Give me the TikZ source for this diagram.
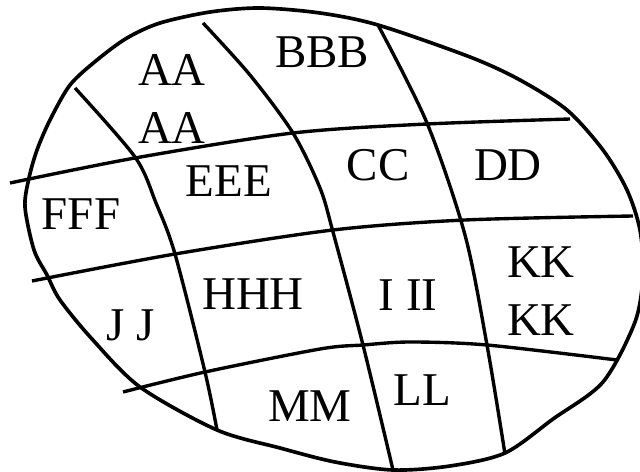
\documentclass[tikz,border=0pt]{standalone}
\usepackage{fontspec}
\setmainfont{Liberation Serif}
\usetikzlibrary{positioning}

\begin{document}
\begin{tikzpicture}[
  x=0.025cm, y=-0.025cm,
  region/.style={inner sep=0pt, align=center, font=\fontsize{33.4}{41.3}\selectfont},
  border/.style={line width=2.6pt, line join=round},
  cut/.style={line width=2.4pt, line cap=butt}
]
\useasboundingbox (0,0) rectangle (640,472);

% Outer boundary
\draw[border] plot[smooth cycle, tension=0.5] coordinates {
  (25,207) (29,178) (37,150) (50,120) (70,85) (97,60) (127,38) (160,23)
  (210,12) (260,8) (320,13) (378,25) (470,57) (520,80) (567,110) (603,150)
  (627,190) (640,230) (643,275) (635,322) (603,382) (553,419) (505,453)
  (450,466) (393,470) (335,462) (280,448) (217,430) (140,387) (92,339)
  (60,300) (47,275) (34,250)};

% Top to bottom cuts
\draw[cut] plot[smooth] coordinates {(75,88) (135,157) (156,203) (175,254) (205,372) (217,430)};
\draw[cut] plot[smooth] coordinates {(203,23) (250,75) (293,133) (320,188) (333,232) (363,345) (393,470)};
\draw[cut] plot[smooth] coordinates {(378,25) (427,123) (465,235) (487,345) (505,454)};

% Left to right cuts
\draw[cut] plot[smooth] coordinates {(10,183) (135,158) (293,133) (427,124) (570,119)};
\draw[cut] plot[smooth] coordinates {(32,281) (175,254) (333,230) (465,220) (633,216)};
\draw[cut] plot[smooth] coordinates {(123,392) (205,372) (320,349) (363,345) (410,342) (487,345) (617,360)};

% Region labels
\node[region] (aa) at (172,99) {AA\\AA};
\node[region] (bbb) at (322,52) {BBB};
\node[region] (eee) at (229,181) {EEE};
\node[region] (cc) at (378,165) {CC};
\node[region] (dd) at (508,165) {DD};
\node[region] (fff) at (81,214) {FFF};
\node[region] (hhh) at (253,294) {HHH};
\node[region] (iii) at (408,295) {I II};
\node[region] (kk) at (541,291) {KK\\KK};
\node[region] (jj) at (131,325) {J J};
\node[region] (mm) at (310,406) {MM};
\node[region] (ll) at (422,390) {LL};

\end{tikzpicture}
\end{document}
